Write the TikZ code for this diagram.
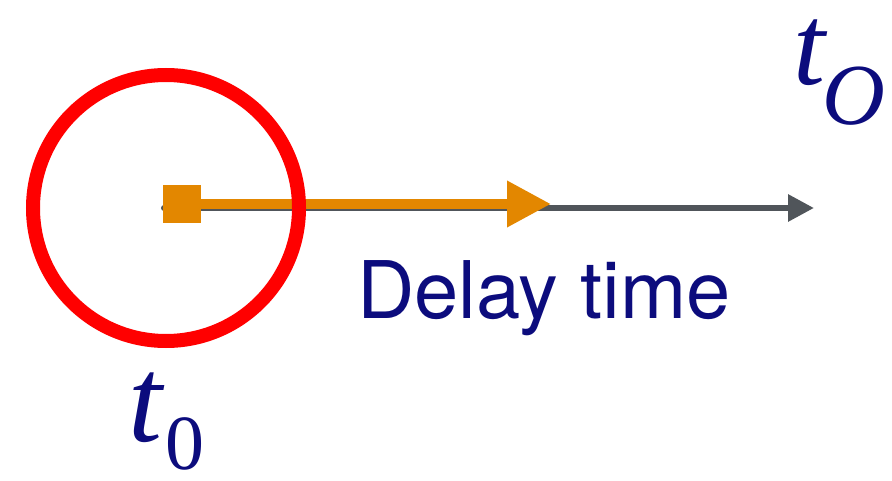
\documentclass[tikz,border=0pt]{standalone}
\usepackage{fontspec}
\setmainfont{Liberation Serif}
\newfontfamily\hsans{TeX Gyre Heros}
\usetikzlibrary{arrows.meta}
\definecolor{navy}{RGB}{12,12,125}
\definecolor{orng}{RGB}{227,135,0}
\definecolor{grayline}{RGB}{80,85,90}
\definecolor{redc}{RGB}{255,0,0}
\begin{document}
\begin{tikzpicture}[x=1pt,y=-1pt,
  lbl/.style={inner sep=0pt,outer sep=0pt,anchor=base west,text=navy}]
\useasboundingbox (0,0) rectangle (892,481);
% gray axis
\coordinate (gstart) at (164,208);
\coordinate (gend) at (814,208);
\draw[grayline, line width=6pt, line cap=round, -{Triangle[length=26pt,width=26pt]}] (gstart) -- (gend);
% orange arrow
\node[fill=orng, minimum size=38pt, inner sep=0pt, outer sep=0pt] (sq) at (182,204) {};
\coordinate (oend) at (551,204);
\draw[orng, line width=10pt, -{Triangle[length=44pt,width=44pt]}] (sq.center) -- (oend);
% red ring
\node[draw=redc, line width=14pt, circle, minimum size=266pt, inner sep=0pt, outer sep=0pt] (ring) at (166,208) {};
% labels
\node[lbl] (delay) at (357,319) {\hsans\fontsize{79.5}{80}\selectfont Delay time};
\node[lbl] (t0t) at (128,441) {\fontsize{122}{100}\selectfont\itshape t};
\node[lbl] (t0s) at (165,469) {\fontsize{78}{80}\selectfont 0};
\node[lbl] (tOt) at (793,85) {\fontsize{115}{100}\selectfont\itshape t};
\node[lbl] (tOs) at (822,125) {\fontsize{87}{89}\selectfont\itshape O};
\end{tikzpicture}
\end{document}
